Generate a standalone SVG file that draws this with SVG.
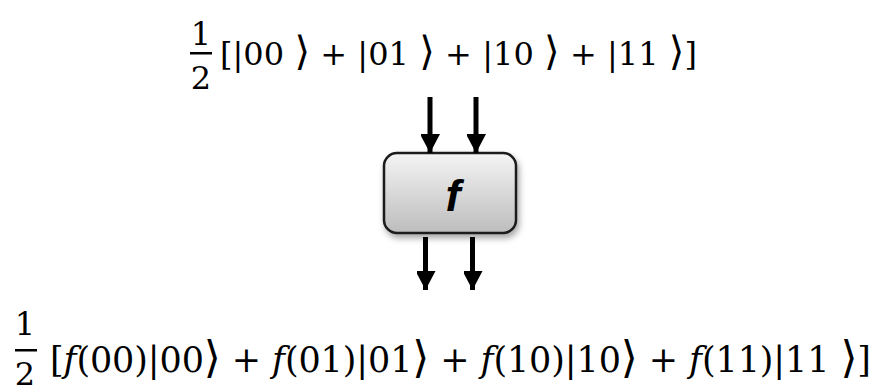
<svg xmlns="http://www.w3.org/2000/svg" width="882" height="392" viewBox="0 0 882 392">
  <style>
    .math { font-family: "DejaVu Serif", "Liberation Serif", serif; fill: #000; }
    .it { font-style: italic; }
    .ket { font-size: 1.25em; }
    .frac { font-family: "DejaVu Serif", "Liberation Serif", serif; fill: #000; text-anchor: middle; }
    .shaft { stroke: #000; stroke-width: 5; fill: none; }
    .fn { font-family: "Liberation Sans", Arial, sans-serif; font-weight: bold; font-style: italic; font-size: 45px; fill: #000; text-anchor: middle; }
  </style>
  <defs>
    <linearGradient id="boxGrad" x1="0" y1="0" x2="0" y2="1">
      <stop offset="0" stop-color="#f4f4f4"/>
      <stop offset="1" stop-color="#bdbdbd"/>
    </linearGradient>
    <filter id="shadow" x="-20%" y="-20%" width="150%" height="160%">
      <feDropShadow dx="2" dy="4" stdDeviation="3" flood-color="#000" flood-opacity="0.35"/>
    </filter>
    <marker id="head" markerUnits="userSpaceOnUse" markerWidth="20" markerHeight="19" refX="19" refY="10" orient="auto">
      <path d="M0,0 L19,10 L0,20 Z" fill="#000"/>
    </marker>
  </defs>

  <g id="input-state">
    <text class="frac" x="201" y="45" font-size="32">1</text>
    <rect x="190" y="52" width="22" height="2.5" fill="#000"/>
    <text class="frac" x="201" y="89" font-size="32">2</text>
    <text class="math" x="220" y="65" font-size="32" textLength="477" lengthAdjust="spacing">[|00 <tspan class="ket">⟩</tspan> + |01 <tspan class="ket">⟩</tspan> + |10 <tspan class="ket">⟩</tspan> + |11 <tspan class="ket">⟩</tspan>]</text>
  </g>

  <g id="f-box">
    <rect x="384" y="153" width="132" height="80" rx="13" ry="13" fill="url(#boxGrad)" stroke="#1a1a1a" stroke-width="2.5" filter="url(#shadow)"/>
    <text class="fn" x="453" y="211">f</text>
  </g>

  <g id="output-state">
    <text class="frac" x="25" y="335" font-size="32">1</text>
    <rect x="15" y="349" width="22" height="2.5" fill="#000"/>
    <text class="frac" x="25" y="385" font-size="32">2</text>
    <text class="math" x="50" y="372" font-size="35" textLength="821" lengthAdjust="spacing">[<tspan class="it">f</tspan>(00)|00<tspan class="ket">⟩</tspan> + <tspan class="it">f</tspan>(01)|01<tspan class="ket">⟩</tspan> + <tspan class="it">f</tspan>(10)|10<tspan class="ket">⟩</tspan> + <tspan class="it">f</tspan>(11)|11 <tspan class="ket">⟩</tspan>]</text>
  </g>

  <g id="connectors">
    <line class="shaft" x1="430" y1="97" x2="430" y2="153" marker-end="url(#head)"/>
    <line class="shaft" x1="476" y1="97" x2="476" y2="153" marker-end="url(#head)"/>
    <line class="shaft" x1="425.5" y1="237" x2="425.5" y2="290" marker-end="url(#head)"/>
    <line class="shaft" x1="472.5" y1="237" x2="472.5" y2="290" marker-end="url(#head)"/>
  </g>
</svg>
